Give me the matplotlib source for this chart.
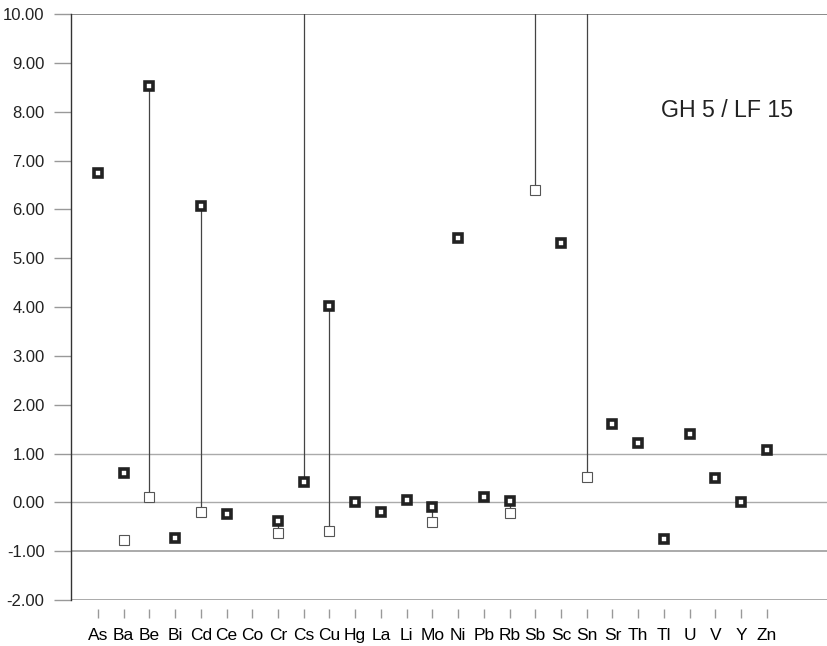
import numpy as np
import matplotlib
matplotlib.use('Agg')
import matplotlib.pyplot as plt

plt.rcParams['font.family'] = ['Liberation Sans', 'DejaVu Sans']

elements = ['As', 'Ba', 'Be', 'Bi', 'Cd', 'Ce', 'Co', 'Cr', 'Cs', 'Cu', 'Hg', 'La', 'Li', 'Mo',
            'Ni', 'Pb', 'Rb', 'Sb', 'Sc', 'Sn', 'Sr', 'Th', 'Tl', 'U', 'V', 'Y', 'Zn']
# bold squares (values above 10 run off the top of the chart)
bold = [6.74, 0.60, 8.52, -0.73, 6.07, -0.24, np.nan, -0.38, 0.42, 4.03, 0.00, -0.19, 0.05, -0.10,
        5.41, 0.10, 0.03, 15.0, 5.31, 15.0, 1.60, 1.22, -0.76, 1.41, 0.49, 0.00, 1.07]
# thin open squares
thin = [np.nan, -0.78, 0.10, np.nan, -0.20, np.nan, np.nan, -0.62, 15.0, -0.59, np.nan, np.nan, np.nan, -0.40,
        np.nan, np.nan, -0.22, 6.39, np.nan, 0.52, np.nan, np.nan, np.nan, np.nan, np.nan, np.nan, np.nan]
# elements whose two values are joined by a line
linked = ['Be', 'Cd', 'Cr', 'Cs', 'Cu', 'Mo', 'Rb', 'Sb', 'Sn']
yticks = [-2, -1, 0, 1, 2, 3, 4, 5, 6, 7, 8, 9, 10]
grid_at = [-1, 0, 1]
label = 'GH 5 / LF 15'

x = np.arange(len(elements))

fig = plt.figure(figsize=(8.28, 6.46), dpi=100)
ax = fig.add_axes([0.0857, 0.0712, 0.913, 0.907])

# range lines
for i, el in enumerate(elements):
    if el in linked:
        ax.vlines(x[i], min(bold[i], thin[i]), max(bold[i], thin[i]), color='#444444', lw=0.9, zorder=2)

ax.plot(x, thin, ls='none', marker='s', ms=7, mfc='white', mec='#555555', mew=0.8, zorder=3)
ax.plot(x, bold, ls='none', marker='s', ms=5.4, mfc='white', mec='#222222', mew=2.6, zorder=4)

# horizontal lines
for g in grid_at:
    ax.axhline(g, color='#aaaaaa', lw=1.4 if g == -1 else 1.0, zorder=1)
ax.axhline(10, color='#777777', lw=1.2, zorder=1)
ax.axhline(-2, color='#aaaaaa', lw=1.4, zorder=1)

ax.set_xlim(-1.05, 28.34)
ax.set_ylim(-2, 10)
ax.set_yticks(yticks)
ax.set_yticklabels(['{:.2f}'.format(v) for v in yticks], color='#222222')
ax.set_xticks(x)
ax.set_xticklabels(elements, color='#222222')

for s in ['top', 'right', 'bottom']:
    ax.spines[s].set_visible(False)
ax.spines['bottom'].set_position(('outward', 6.5))
ax.spines['left'].set_color('#333333')
ax.spines['left'].set_linewidth(1.0)
ax.tick_params(axis='y', length=12, width=1, color='#999999', pad=7, labelsize=12)
ax.tick_params(axis='x', length=6.5, width=1, color='#999999', pad=7, labelsize=12.5)

ax.text(0.868, 0.836, label, transform=ax.transAxes, fontsize=16.7, color='#222222',
        ha='center', va='center')

fig.savefig('out.png', dpi=100)
